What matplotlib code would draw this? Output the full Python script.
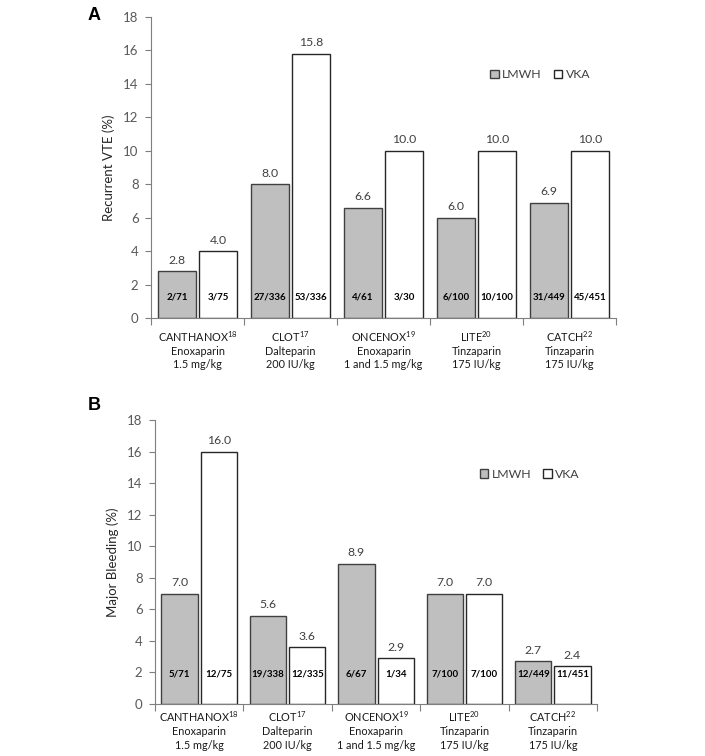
import numpy as np
import matplotlib
matplotlib.use("Agg")
import matplotlib.pyplot as plt

plt.rcParams['font.family'] = ['Lato', 'DejaVu Sans']
plt.rcParams['mathtext.fontset'] = 'custom'
plt.rcParams['mathtext.rm'] = 'Lato'
plt.rcParams['mathtext.it'] = 'Lato:italic'
plt.rcParams['mathtext.bf'] = 'Lato:bold'

# data
trials = ['CANTHANOX', 'CLOT', 'ONCENOX', 'LITE', 'CATCH']
refs = ['18', '17', '19', '20', '22']
drugs = ['Enoxaparin', 'Dalteparin', 'Enoxaparin', 'Tinzaparin', 'Tinzaparin']
doses = ['1.5 mg/kg', '200 IU/kg', '1 and 1.5 mg/kg', '175 IU/kg', '175 IU/kg']

vte_lmwh = [2.8, 8.0, 6.6, 6.0, 6.9]
vte_vka = [4.0, 15.8, 10.0, 10.0, 10.0]
vte_lmwh_n = ['2/71', '27/336', '4/61', '6/100', '31/449']
vte_vka_n = ['3/75', '53/336', '3/30', '10/100', '45/451']

bleed_lmwh = [7.0, 5.6, 8.9, 7.0, 2.7]
bleed_vka = [16.0, 3.6, 2.9, 7.0, 2.4]
bleed_lmwh_n = ['5/71', '19/338', '6/67', '7/100', '12/449']
bleed_vka_n = ['12/75', '12/335', '1/34', '7/100', '11/451']

yticks = [0, 2, 4, 6, 8, 10, 12, 14, 16, 18]

GREY = '#bfbfbf'
AXC = '#7f7f7f'
TXT = '#404040'

fig = plt.figure(figsize=(7.05, 7.56), dpi=100)
axA = fig.add_axes([0.2142, 0.5794, 0.6596, 0.3981])
axB = fig.add_axes([0.2199, 0.0688, 0.6270, 0.3757])


def panel(ax, lmwh, vka, lmwh_n, vka_n, ylabel, inbar_y, leg_xy, xpad):
    x = np.arange(len(trials))
    w = 0.41
    off = 0.222
    b1 = ax.bar(x - off, lmwh, w, color=GREY, edgecolor='#404040', linewidth=1.0, label='LMWH', zorder=2)
    b2 = ax.bar(x + off, vka, w, color='white', edgecolor='#262626', linewidth=1.0, label='VKA', zorder=2)
    for i in range(len(x)):
        ax.annotate(f'{lmwh[i]:.1f}', (x[i] - off, lmwh[i]), xytext=(0, 4), textcoords='offset points',
                    ha='center', va='bottom', fontsize=8.8, color=TXT)
        ax.annotate(f'{vka[i]:.1f}', (x[i] + off, vka[i]), xytext=(0, 4), textcoords='offset points',
                    ha='center', va='bottom', fontsize=8.8, color=TXT)
        ax.text(x[i] - off, inbar_y, lmwh_n[i], ha='center', va='center', fontsize=7,
                fontweight='bold', color='black', zorder=3)
        ax.text(x[i] + off, inbar_y, vka_n[i], ha='center', va='center', fontsize=7,
                fontweight='bold', color='black', zorder=3)

    ax.set_xlim(-0.5, len(trials) - 0.5)
    ax.set_ylim(0, 18)
    ax.set_yticks(yticks)
    ax.tick_params(axis='y', colors=AXC, labelcolor='#595959', labelsize=9.5, length=4, direction='out', pad=5)
    ax.set_xticks(np.arange(len(trials) + 1) - 0.5)
    ax.set_xticklabels([])
    ax.tick_params(axis='x', which='major', colors=AXC, length=5, direction='out')
    ax.set_xticks(x, minor=True)
    labels = [f'{t}$^{{{r}}}$\n{d}\n{s}' for t, r, d, s in zip(trials, refs, drugs, doses)]
    ax.set_xticklabels(labels, minor=True, fontsize=7.8, linespacing=1.25, color='#1a1a1a')
    ax.tick_params(axis='x', which='minor', length=0, pad=xpad)
    for s in ['top', 'right']:
        ax.spines[s].set_visible(False)
    for s in ['left', 'bottom']:
        ax.spines[s].set_color(AXC)
    ax.set_ylabel(ylabel, fontsize=9.5, color='#262626', labelpad=6)
    ax.legend(handles=[b1, b2], loc='lower left', bbox_to_anchor=leg_xy, ncol=2, frameon=False,
              fontsize=8.8, handlelength=0.7, handleheight=0.7, handletextpad=0.25,
              columnspacing=1.0, labelcolor='#404040', borderaxespad=0, borderpad=0)


panel(axA, vte_lmwh, vte_vka, vte_lmwh_n, vte_vka_n, 'Recurrent VTE (%)', 1.25, (0.73, 0.79), 8)
panel(axB, bleed_lmwh, bleed_vka, bleed_lmwh_n, bleed_vka_n, 'Major Bleeding (%)', 1.9, (0.735, 0.79), 4)

fig.text(88 / 705, 1 - 15 / 756, 'A', fontsize=13, fontweight='bold', family='Liberation Sans', va='center')
fig.text(88 / 705, 1 - 405 / 756, 'B', fontsize=13, fontweight='bold', family='Liberation Sans', va='center')

fig.savefig('out.png', dpi=100)
